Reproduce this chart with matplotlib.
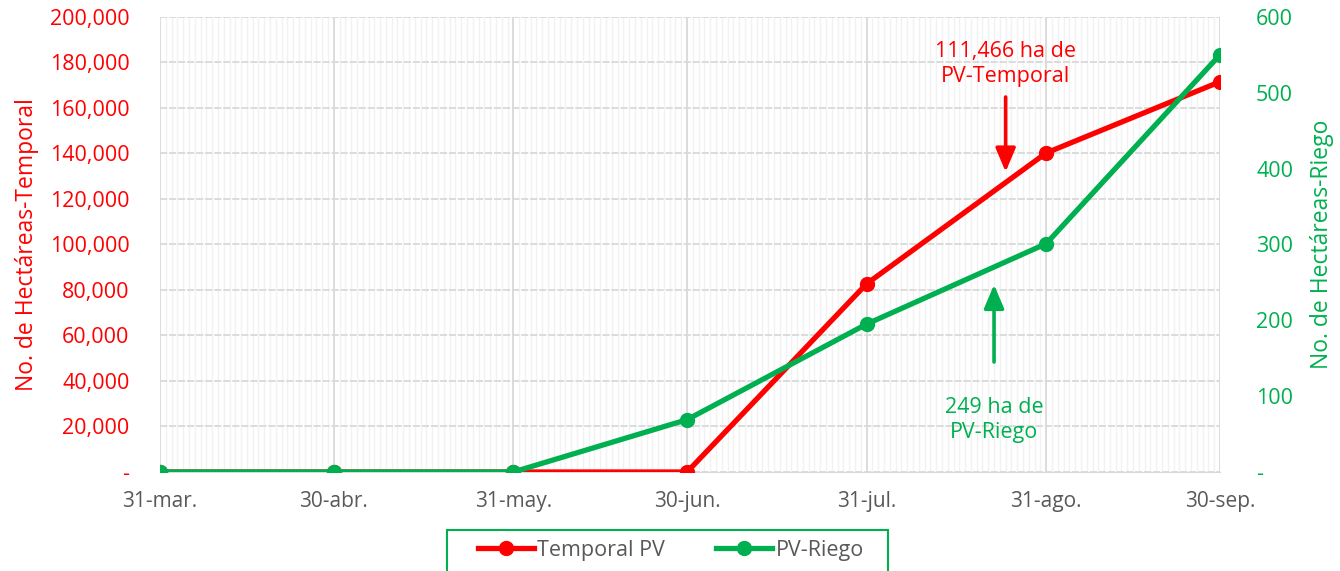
import pandas as pd
import matplotlib.pyplot as plt
import matplotlib.dates as mdates
from matplotlib.ticker import FuncFormatter, FixedLocator
from matplotlib.patches import Rectangle

# Data
fechas = ["2023-03-31", "2023-04-30", "2023-05-31", "2023-06-30",
          "2023-07-31", "2023-08-31", "2023-09-30"]
etiquetas_x = ["31-mar.", "30-abr.", "31-may.", "30-jun.", "31-jul.", "31-ago.", "30-sep."]
temporal_pv = [0, 0, 0, 0, 82700, 140200, 171500]
riego_pv = [0, 0, 0, 69, 195, 301, 550]

ROJO = "#FF0000"
VERDE = "#00B050"
GRIS = "#595959"

plt.rcParams['font.family'] = ['Open Sans', 'DejaVu Sans']
plt.rcParams['font.weight'] = 500

x = pd.to_datetime(fechas)

fig = plt.figure(figsize=(13.4, 5.71), dpi=100)
ax = fig.add_axes([0.1194, 0.1734, 0.791, 0.797])
ax2 = ax.twinx()

# Grid: daily light lines, month-end major lines, dashed horizontals
ax.xaxis.set_minor_locator(mdates.DayLocator())
ax.xaxis.set_major_locator(FixedLocator(mdates.date2num(x)))
ax.set_xticklabels(etiquetas_x)
ax.grid(which='minor', axis='x', color='#F2F2F2', lw=1)
ax.grid(which='major', axis='x', color='#D9D9D9', lw=1.3)
ax.grid(which='major', axis='y', color='#D9D9D9', lw=1.3, linestyle=(0, (4, 1)))
ax.set_axisbelow(True)

ax.plot(x, temporal_pv, color=ROJO, lw=3.8, marker='o', markersize=10, zorder=3,
        label='Temporal PV')
ax2.plot(x, riego_pv, color=VERDE, lw=3.8, marker='o', markersize=10, zorder=3,
         label='PV-Riego')

ax.set_xlim(x[0], x[-1])
ax.set_ylim(0, 200000)
ax2.set_ylim(0, 600)
ax.set_yticks(range(0, 200001, 20000))
ax2.set_yticks(range(0, 601, 100))

fmt = lambda v, p: '-' if v == 0 else f"{int(v):,}"
ax.yaxis.set_major_formatter(FuncFormatter(fmt))
ax2.yaxis.set_major_formatter(FuncFormatter(fmt))

for a in (ax, ax2):
    for s in a.spines.values():
        s.set_visible(False)
ax.spines['bottom'].set_visible(True)
ax.spines['bottom'].set_color('#D9D9D9')

ax.tick_params(axis='y', colors=ROJO, labelsize=15.5, length=0, pad=22)
ax2.tick_params(axis='y', colors=VERDE, labelsize=15.5, length=0, pad=26)
ax.tick_params(axis='x', which='both', colors=GRIS, labelsize=15, length=0, pad=14)

ax.set_ylabel("No. de Hectáreas-Temporal", color=ROJO, fontsize=16.5, labelpad=8)
ax2.set_ylabel("No. de Hectáreas-Riego", color=VERDE, fontsize=16.5, labelpad=12)

# Annotations
d_rojo = pd.Timestamp("2023-08-24")
ax.text(d_rojo, 179500, "111,466 ha de\nPV-Temporal", ha='center', va='center',
        color=ROJO, fontsize=15.5, linespacing=1.25)
ax.annotate("", xy=(d_rojo, 131900), xytext=(d_rojo, 164800),
            arrowprops=dict(arrowstyle='-|>,head_length=0.9,head_width=0.38', color=ROJO,
                            lw=2.6, mutation_scale=16, shrinkA=0, shrinkB=0))
d_verde = pd.Timestamp("2023-08-22")
ax2.text(d_verde, 69, "249 ha de\nPV-Riego", ha='center', va='center',
         color=VERDE, fontsize=15.5, linespacing=1.25)
ax2.annotate("", xy=(d_verde, 247), xytext=(d_verde, 145),
             arrowprops=dict(arrowstyle='-|>,head_length=0.9,head_width=0.38', color=VERDE,
                             lw=2.6, mutation_scale=16, shrinkA=0, shrinkB=0))

# Legend with its own green frame
h1, l1 = ax.get_legend_handles_labels()
h2, l2 = ax2.get_legend_handles_labels()
fig.legend(h1 + h2, l1 + l2, loc='center', bbox_to_anchor=(0.5005, 0.036), ncol=2,
           fontsize=15.5, frameon=False, handlelength=2.6,
           handletextpad=0.15, columnspacing=2.4, labelcolor=GRIS)
fig.patches.append(Rectangle((447 / 1340, -0.02), 441 / 1340, 0.02 + 41 / 571,
                             transform=fig.transFigure, fill=False,
                             edgecolor=VERDE, lw=1.5))

fig.savefig("out.png", dpi=100)
